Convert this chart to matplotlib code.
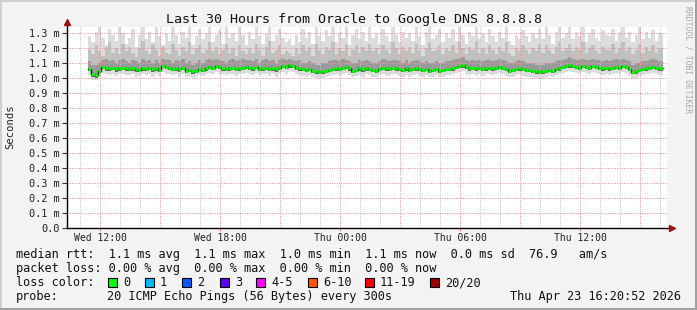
import numpy as np
import matplotlib
matplotlib.use("Agg")
import matplotlib.pyplot as plt
from matplotlib.patches import Rectangle
from matplotlib.lines import Line2D

# ---------------- data (milliseconds) ----------------
title = "Last 30 Hours from Oracle to Google DNS 8.8.8.8"
t_start = 10 + 20/60 + 52/3600       # Wed 10:20:52 (hours since Wed 00:00)
t_first = 11.4                        # first sample (hours)
t_last_edge = 40.15
step_h = 1/6                          # 10 minute samples

median = [1.06,1.03,1.02,1.05,1.075,1.07,1.065,1.07,1.06,1.065,1.07,1.065,
          1.06,1.065,1.06,1.055,1.065,1.06,1.07,1.06,1.065,1.055,1.08,1.075,
          1.07,1.06,1.065,1.06,1.07,1.05,1.055,1.045,1.05,1.06,1.055,1.065,
          1.075,1.07,1.08,1.075,1.065,1.06,1.065,1.07,1.06,1.065,1.07,1.075,
          1.07,1.065,1.075,1.06,1.065,1.07,1.06,1.065,1.06,1.07,1.08,1.075,
          1.085,1.08,1.07,1.065,1.06,1.055,1.06,1.05,1.045,1.04,1.045,1.05,
          1.055,1.06,1.065,1.06,1.07,1.075,1.065,1.05,1.055,1.065,1.06,1.065,
          1.06,1.055,1.05,1.06,1.07,1.065,1.06,1.07,1.065,1.06,1.055,1.065,
          1.055,1.06,1.065,1.06,1.055,1.06,1.05,1.055,1.06,1.05,1.055,1.06,
          1.06,1.065,1.075,1.08,1.085,1.075,1.065,1.07,1.065,1.07,1.06,1.065,
          1.07,1.065,1.07,1.075,1.07,1.06,1.05,1.055,1.06,1.065,1.06,1.055,
          1.055,1.05,1.045,1.04,1.045,1.05,1.055,1.05,1.06,1.065,1.075,1.08,
          1.085,1.08,1.075,1.07,1.08,1.075,1.07,1.08,1.075,1.07,1.065,1.07,
          1.065,1.07,1.075,1.07,1.08,1.075,1.06,1.04,1.045,1.055,1.06,1.065,
          1.07,1.075,1.07,1.065]
smoke_max = [1.28,1.24,1.31,1.34,1.27,1.22,1.33,1.29,1.25,1.34,1.30,1.23,
             1.27,1.33,1.21,1.29,1.34,1.26,1.31,1.24,1.34,1.28,1.22,1.30,
             1.25,1.34,1.29,1.23,1.31,1.27,1.34,1.22,1.28,1.33,1.26,1.30,
             1.34,1.24,1.29,1.32,1.23,1.34,1.27,1.30,1.25,1.34,1.29,1.22,
             1.31,1.26,1.34,1.28,1.23,1.30,1.34,1.25,1.29,1.33,1.27,1.24,
             1.26,1.22,1.29,1.24,1.33,1.27,1.31,1.23,1.34,1.28,1.25,1.32,
             1.28,1.34,1.24,1.30,1.27,1.34,1.22,1.29,1.33,1.26,1.31,1.25,
             1.34,1.27,1.30,1.23,1.33,1.28,1.25,1.34,1.29,1.24,1.31,1.27,
             1.30,1.25,1.34,1.28,1.22,1.31,1.34,1.26,1.29,1.33,1.24,1.30,
             1.27,1.33,1.25,1.34,1.29,1.23,1.31,1.28,1.34,1.26,1.30,1.24,
             1.33,1.28,1.24,1.31,1.27,1.34,1.25,1.22,1.29,1.26,1.32,1.28,
             1.24,1.30,1.27,1.33,1.26,1.34,1.29,1.23,1.31,1.34,1.27,1.30,
             1.34,1.26,1.31,1.28,1.34,1.24,1.30,1.33,1.27,1.25,1.32,1.29,
             1.28,1.33,1.25,1.30,1.34,1.27,1.31,1.24,1.29,1.34,1.26,1.31,
             1.27,1.32,1.25,1.30]
smoke_hi2 = [1.19,1.16,1.22,1.18,1.15,1.21,1.24,1.17,1.20,1.16,1.23,1.18,
             1.21,1.17,1.14,1.20,1.25,1.18,1.16,1.22,1.19,1.15,1.21,1.17,
             1.16,1.23,1.19,1.15,1.21,1.18,1.24,1.16,1.20,1.22,1.17,1.19,
             1.24,1.18,1.21,1.16,1.19,1.23,1.17,1.20,1.15,1.22,1.18,1.16,
             1.20,1.17,1.23,1.19,1.15,1.21,1.25,1.17,1.19,1.22,1.16,1.18,
             1.17,1.15,1.20,1.16,1.22,1.18,1.21,1.15,1.23,1.19,1.16,1.21,
             1.19,1.24,1.16,1.20,1.18,1.23,1.15,1.19,1.22,1.17,1.21,1.18,
             1.23,1.18,1.20,1.16,1.22,1.19,1.17,1.24,1.20,1.16,1.21,1.18,
             1.21,1.17,1.23,1.19,1.15,1.20,1.24,1.18,1.19,1.22,1.16,1.20,
             1.18,1.22,1.17,1.24,1.20,1.16,1.21,1.19,1.25,1.17,1.20,1.16,
             1.22,1.19,1.16,1.21,1.18,1.24,1.17,1.15,1.20,1.18,1.22,1.19,
             1.16,1.20,1.18,1.23,1.17,1.22,1.19,1.16,1.21,1.24,1.18,1.20,
             1.23,1.18,1.21,1.19,1.24,1.17,1.20,1.22,1.18,1.16,1.21,1.19,
             1.19,1.23,1.17,1.20,1.24,1.18,1.21,1.16,1.19,1.23,1.17,1.21,
             1.18,1.22,1.17,1.20]
smoke_hi1 = [1.11,1.09,1.09,1.10,1.12,1.13,1.11,1.12,1.10,1.12,1.13,1.11,
             1.10,1.12,1.11,1.10,1.13,1.11,1.12,1.10,1.12,1.10,1.13,1.12,
             1.12,1.10,1.12,1.11,1.13,1.10,1.11,1.09,1.10,1.12,1.10,1.12,
             1.13,1.12,1.13,1.12,1.11,1.10,1.12,1.13,1.11,1.12,1.13,1.12,
             1.12,1.11,1.13,1.10,1.12,1.13,1.11,1.12,1.10,1.12,1.13,1.12,
             1.13,1.12,1.11,1.12,1.10,1.10,1.11,1.10,1.09,1.09,1.10,1.10,
             1.11,1.12,1.12,1.11,1.13,1.12,1.11,1.10,1.10,1.12,1.11,1.12,
             1.11,1.10,1.10,1.11,1.13,1.12,1.11,1.12,1.12,1.11,1.10,1.12,
             1.10,1.11,1.12,1.11,1.10,1.11,1.10,1.10,1.11,1.10,1.10,1.11,
             1.11,1.12,1.13,1.13,1.14,1.12,1.11,1.12,1.11,1.12,1.11,1.12,
             1.12,1.11,1.12,1.13,1.12,1.11,1.10,1.10,1.11,1.12,1.11,1.10,
             1.10,1.10,1.09,1.09,1.09,1.10,1.10,1.10,1.11,1.12,1.12,1.13,
             1.14,1.13,1.12,1.12,1.13,1.12,1.12,1.13,1.12,1.12,1.11,1.12,
             1.11,1.12,1.13,1.12,1.13,1.12,1.11,1.09,1.10,1.10,1.11,1.11,
             1.12,1.13,1.12,1.11]
smoke_lo = [1.045,1.01,1.0,1.035,1.06,1.05,1.05,1.055,1.04,1.05,1.055,1.045,
            1.045,1.05,1.04,1.04,1.05,1.045,1.055,1.04,1.05,1.04,1.065,1.06,
            1.055,1.045,1.05,1.04,1.055,1.035,1.04,1.03,1.035,1.045,1.04,1.05,
            1.06,1.055,1.065,1.06,1.05,1.045,1.05,1.055,1.045,1.05,1.055,1.06,
            1.055,1.05,1.06,1.045,1.05,1.055,1.045,1.05,1.04,1.055,1.065,1.06,
            1.07,1.065,1.055,1.05,1.045,1.04,1.045,1.035,1.03,1.025,1.03,1.035,
            1.04,1.045,1.05,1.045,1.055,1.06,1.05,1.035,1.04,1.05,1.04,1.05,
            1.045,1.04,1.035,1.045,1.055,1.05,1.045,1.055,1.05,1.045,1.04,1.05,
            1.04,1.045,1.05,1.045,1.04,1.045,1.035,1.04,1.045,1.035,1.04,1.045,
            1.045,1.05,1.06,1.065,1.07,1.06,1.05,1.055,1.05,1.055,1.045,1.05,
            1.055,1.05,1.055,1.06,1.055,1.045,1.035,1.04,1.045,1.05,1.045,1.04,
            1.04,1.035,1.03,1.025,1.03,1.035,1.04,1.035,1.045,1.05,1.06,1.065,
            1.07,1.065,1.06,1.055,1.065,1.06,1.055,1.065,1.06,1.055,1.05,1.055,
            1.05,1.055,1.06,1.055,1.065,1.06,1.045,1.025,1.03,1.04,1.045,1.05,
            1.055,1.06,1.055,1.05]
smoke_min = [1.02,0.99,0.985,1.01,1.035,1.03,1.02,1.03,1.015,1.025,1.03,1.02,
             1.02,1.025,1.01,1.015,1.03,1.02,1.03,1.01,1.025,1.015,1.04,1.03,
             1.03,1.02,1.025,1.01,1.03,1.01,1.015,1.0,1.01,1.02,1.015,1.025,
             1.035,1.03,1.04,1.03,1.025,1.02,1.025,1.03,1.015,1.025,1.03,1.035,
             1.03,1.02,1.035,1.02,1.025,1.03,1.015,1.025,1.01,1.03,1.04,1.03,
             1.045,1.04,1.03,1.02,1.015,1.01,1.02,1.005,1.0,0.995,1.0,1.01,
             1.015,1.02,1.025,1.015,1.03,1.035,1.02,1.005,1.015,1.02,1.01,1.025,
             1.02,1.01,1.005,1.02,1.03,1.02,1.015,1.03,1.025,1.015,1.01,1.02,
             1.01,1.02,1.025,1.015,1.01,1.02,1.005,1.01,1.02,1.005,1.01,1.02,
             1.02,1.025,1.035,1.04,1.045,1.03,1.02,1.03,1.02,1.03,1.015,1.025,
             1.03,1.02,1.03,1.035,1.025,1.015,1.005,1.01,1.02,1.025,1.015,1.01,
             1.01,1.005,1.0,0.995,1.0,1.005,1.015,1.005,1.02,1.025,1.035,1.04,
             1.045,1.04,1.035,1.03,1.04,1.035,1.03,1.04,1.035,1.03,1.02,1.03,
             1.02,1.03,1.035,1.025,1.04,1.035,1.015,0.995,1.0,1.015,1.02,1.025,
             1.03,1.035,1.03,1.02]

y_ticks = [0.0,0.1,0.2,0.3,0.4,0.5,0.6,0.7,0.8,0.9,1.0,1.1,1.2,1.3]
x_label_hours = [12, 18, 24, 30, 36]
x_labels = ["Wed 12:00", "Wed 18:00", "Thu 00:00", "Thu 06:00", "Thu 12:00"]

legend_lines = [
    "median rtt:  1.1 ms avg  1.1 ms max  1.0 ms min  1.1 ms now  0.0 ms sd  76.9   am/s",
    "packet loss: 0.00 % avg  0.00 % max  0.00 % min  0.00 % now",
]
loss_labels = ["0", "1", "2", "3", "4-5", "6-10", "11-19", "20/20"]
loss_colors = ["#00ff00", "#00b8ff", "#0059ff", "#5e00ff", "#ff00ff", "#ff5500", "#ff0000", "#a10000"]
probe_text = "20 ICMP Echo Pings (56 Bytes) every 300s"
stamp_text = "Thu Apr 23 16:20:52 2026"

# ---------------- figure ----------------
W, H = 697, 310
MONO = "DejaVu Sans Mono"
fig = plt.figure(figsize=(W/100, H/100), dpi=100, facecolor="#f3f3f3")

def fx(px):
    return px / W

def fy(py):
    return 1 - py / H

ax = fig.add_axes([fx(67), fy(228), fx(600), 201 / H])
ax.set_facecolor("white")
ax.set_xlim(t_start, t_start + 30)
ax.set_ylim(0, 1.34)
for s in ax.spines.values():
    s.set_visible(False)

n = len(median)
times = t_first + step_h * np.arange(n)
edges = np.append(times, t_last_edge)

def ext(a):
    a = np.asarray(a, dtype=float)
    return np.append(a, a[-1])

ax.fill_between(edges, ext(smoke_min), ext(smoke_max), step="post", color="#dcdcdc", lw=0, zorder=1)
ax.fill_between(edges, ext(smoke_lo), ext(smoke_hi2), step="post", color="#c0c0c0", lw=0, zorder=1.1)
ax.fill_between(edges, ext(smoke_lo), ext(smoke_hi1), step="post", color="#9a9a9a", lw=0, zorder=1.2)
ax.fill_between(edges, ext(smoke_lo), ext(median), step="post", color="#666666", lw=0, zorder=1.3)

# grid (drawn over smoke like rrdtool)
dots = (0, (1.0, 1.3))
for h in np.arange(np.ceil(t_start), t_start + 30, 1.0):
    major = int(round(h)) % 3 == 0
    ax.axvline(h, color="#ea9494" if major else "#c4c4c4", lw=0.72, ls=dots, zorder=2)
for v in y_ticks[1:]:
    ax.axhline(v, color="#ea9494", lw=0.72, ls=dots, zorder=2)

# median line
ax.step(edges, ext(median), where="post", color="black", lw=1.0, zorder=3)
ax.hlines(median, edges[:-1], edges[1:], color=loss_colors[0], lw=1.9, zorder=4)

# ticks
ax.set_yticks(y_ticks)
ax.set_yticklabels(["0.0"] + [f"{v:.1f} m" for v in y_ticks[1:]])
ax.set_xticks(x_label_hours)
ax.set_xticklabels(x_labels)
ax.tick_params(axis="y", length=3.5, width=0.8, color="#333333", pad=2,
               labelsize=7.4, labelcolor="#222222")
ax.tick_params(axis="x", length=2, width=0.8, color="#e89090", pad=1.8,
               labelsize=7.0, labelcolor="#222222")
for lab in ax.get_xticklabels() + ax.get_yticklabels():
    lab.set_fontfamily(MONO)

# axes with arrows
ax.plot([0, 1.008], [0, 0], color="black", lw=1.0, transform=ax.transAxes, clip_on=False, zorder=5)
ax.plot([0, 0], [0, 1.02], color="black", lw=1.0, transform=ax.transAxes, clip_on=False, zorder=5)
ax.plot([1.008], [0], marker=">", ms=4.5, color="#991111", transform=ax.transAxes, clip_on=False, zorder=6)
ax.plot([0], [1.025], marker="^", ms=4.5, color="#991111", transform=ax.transAxes, clip_on=False, zorder=6)

# titles / labels
fig.text(fx(354), fy(19), title, ha="center", va="center", family=MONO, fontsize=9.6, color="#111111")
fig.text(fx(10), fy(127), "Seconds", rotation=90, ha="center", va="center", family=MONO, fontsize=7.6,
         color="#222222")
fig.text(fx(688), fy(60), "RRDTOOL / TOBI OETIKER", rotation=270, ha="center", va="center",
         family=MONO, fontsize=5.8, color="#a8a8a8")

# legend
LF = 8.6
fig.text(fx(16), fy(254.5), legend_lines[0], ha="left", va="center", family=MONO, fontsize=LF, color="#111111")
fig.text(fx(16), fy(268.5), legend_lines[1], ha="left", va="center", family=MONO, fontsize=LF, color="#111111")
fig.text(fx(16), fy(282.5), "loss color:", ha="left", va="center", family=MONO, fontsize=LF, color="#111111")
box_x = [108, 145, 182, 220, 256, 308, 365, 430]
for bx, lab, col in zip(box_x, loss_labels, loss_colors):
    fig.patches.append(Rectangle((fx(bx), fy(287)), 9 / W, 9 / H, transform=fig.transFigure,
                                 facecolor=col, edgecolor="black", lw=0.8))
    fig.text(fx(bx + 15), fy(282.5), lab, ha="left", va="center", family=MONO, fontsize=LF, color="#111111")
fig.text(fx(16), fy(296.5), "probe:", ha="left", va="center", family=MONO, fontsize=LF, color="#111111")
fig.text(fx(107), fy(296.5), probe_text, ha="left", va="center", family=MONO, fontsize=LF, color="#111111")
fig.text(fx(681), fy(296.5), stamp_text, ha="right", va="center", family=MONO, fontsize=LF, color="#111111")

# frame shading
fig.lines.append(Line2D([0, 1], [fy(1), fy(1)], transform=fig.transFigure, color="#cfcfcf", lw=1.4))
fig.lines.append(Line2D([fx(1), fx(1)], [0, 1], transform=fig.transFigure, color="#cfcfcf", lw=1.4))
fig.lines.append(Line2D([0, 1], [fy(309), fy(309)], transform=fig.transFigure, color="#9e9e9e", lw=1.4))
fig.lines.append(Line2D([fx(696), fx(696)], [0, 1], transform=fig.transFigure, color="#9e9e9e", lw=1.4))

fig.savefig("out.png", dpi=100, facecolor=fig.get_facecolor())
